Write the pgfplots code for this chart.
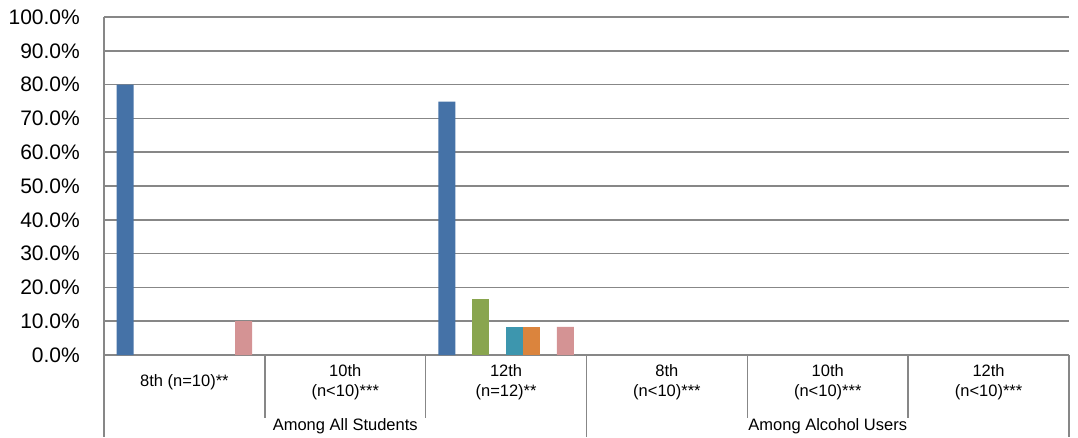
\documentclass[border=0pt]{standalone}
\usepackage{pgfplots}
\pgfplotsset{compat=1.18}
\usepackage{fontspec}
\setmainfont{Liberation Sans}
\definecolor{sblue}{HTML}{4572A7}
\definecolor{sgreen}{HTML}{89A54E}
\definecolor{scyan}{HTML}{3D96AE}
\definecolor{sorange}{HTML}{DB843D}
\definecolor{spink}{HTML}{D49394}
\definecolor{gline}{HTML}{878787}
\begin{document}
\begin{tikzpicture}
\useasboundingbox (-104pt,-82pt) rectangle (974pt,355pt);
\begin{axis}[
  at={(0,0)}, anchor=south west,
  width=965pt, height=338pt, scale only axis,
  xmin=0, xmax=6, ymin=0, ymax=100,
  enlargelimits=false,
  axis x line*=bottom, axis y line*=left,
  axis line style={draw=gline, line width=1.5pt, -},
  ymajorgrids, grid style={draw=gline, line width=1.5pt},
  major tick length=0pt,
  ytick={0,10,...,100},
  yticklabels={0.0\%,10.0\%,20.0\%,30.0\%,40.0\%,50.0\%,60.0\%,70.0\%,80.0\%,90.0\%,100.0\%},
  y tick label style={font=\fontsize{21}{25}\selectfont, anchor=east, inner sep=0pt, xshift=-24pt},
  xtick={0.5,1.5,2.5,3.5,4.5,5.5},
  xticklabels={8th (n=10)**, 10th\\(n<10)***, 12th\\(n=12)**, 8th\\(n<10)***, 10th\\(n<10)***, 12th\\(n<10)***},
  x tick label style={font=\fontsize{16.5}{20}\selectfont, align=center, anchor=center, inner sep=0pt, yshift=-27pt},
  clip=false,
  ybar=0pt, bar width=0.10526,
]
\addplot[fill=sblue, draw=none, bar shift=-0.36842] coordinates {(0.5,80) (2.5,75)};
\addplot[fill=sgreen, draw=none, bar shift=-0.15789] coordinates {(2.5,16.7)};
\addplot[fill=scyan, draw=none, bar shift=0.05263] coordinates {(2.5,8.3)};
\addplot[fill=sorange, draw=none, bar shift=0.15789] coordinates {(2.5,8.3)};
\addplot[fill=spink, draw=none, bar shift=0.36842] coordinates {(0.5,10) (2.5,8.3)};
\draw[gline, line width=1.5pt] (axis cs:1,0) -- ++(0pt,-63pt);
\draw[gline, line width=1.5pt] (axis cs:2,0) -- ++(0pt,-63pt);
\draw[gline, line width=1.5pt] (axis cs:4,0) -- ++(0pt,-63pt);
\draw[gline, line width=1.5pt] (axis cs:5,0) -- ++(0pt,-63pt);
\draw[gline, line width=1.5pt] (axis cs:0,0) -- ++(0pt,-82pt);
\draw[gline, line width=1.5pt] (axis cs:3,0) -- ++(0pt,-82pt);
\draw[gline, line width=1.5pt] (axis cs:6,0) -- ++(0pt,-82pt);
\node[font=\fontsize{16.5}{20}\selectfont, inner sep=0pt] at ([yshift=-71pt]axis cs:1.5,0) {Among All Students};
\node[font=\fontsize{16.5}{20}\selectfont, inner sep=0pt] at ([yshift=-71pt]axis cs:4.5,0) {Among Alcohol Users};
\end{axis}
\end{tikzpicture}
\end{document}
